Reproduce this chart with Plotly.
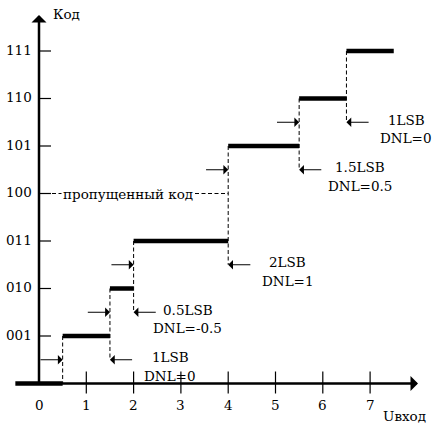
import plotly.graph_objects as go

# ---------------- data ----------------
code_labels = ['000', '001', '010', '011', '100', '101', '110', '111']
codes = [0, 1, 2, 3, 4, 5, 6, 7]
step_start = [-0.5, 0.5, 1.5, 2.0, None, 4.0, 5.5, 6.5]
step_end = [0.5, 1.5, 2.0, 4.0, None, 5.5, 6.5, 7.5]
x_ticks = [0, 1, 2, 3, 4, 5, 6, 7]
x_tick_labels = ['0', '1', '2', '3', '4', '5', '6', '7']
width_labels = ['1LSB', '0.5LSB', '2LSB', '1.5LSB', '1LSB']
dnl_labels = ['DNL=0', 'DNL=-0.5', 'DNL=1', 'DNL=0.5', 'DNL=0']
label_codes = [1, 2, 3, 5, 6]
label_dx = [1.27, 1.15, 1.26, 1.29, 1.26]
missing_code = 4
missing_text = 'пропущенный код'
y_title = 'Код'
x_title = 'Uвход'

# ---------------- geometry (figure px -> data) ----------------
W, H = 433, 426
X0, SX = 39.0, 47.3      # pixel of x=0, px per unit
Y0, SY = 383.5, 47.5     # pixel of y=0 (from top), px per unit
x_range = [-X0 / SX, (W - X0) / SX]
y_range = [(Y0 - H) / SY, Y0 / SY]

FONT = "DejaVu Serif"
FS = 13.5

fig = go.Figure()

# thick code steps
sx, sy = [], []
for c, s, e in zip(codes, step_start, step_end):
    if s is None:
        continue
    sx += [s, e, None]
    sy += [c, c, None]
fig.add_trace(go.Scatter(x=sx, y=sy, mode='lines', line=dict(color='black', width=4.5),
                         hoverinfo='skip', showlegend=False))

# dashed transitions
dx, dy = [], []
prev_code = None
for c, s, e in zip(codes, step_start, step_end):
    if s is None:
        continue
    if prev_code is not None:
        dx += [s, s, None]
        dy += [c, max(0, prev_code - 0.5), None]
    prev_code = c
# missing code dashed horizontal
miss_end = step_start[missing_code + 1]
dx += [0, miss_end, None]
dy += [missing_code, missing_code, None]
fig.add_trace(go.Scatter(x=dx, y=dy, mode='lines',
                         line=dict(color='black', width=1, dash='4px,2.5px'),
                         hoverinfo='skip', showlegend=False))

# y ticks (inside, to the right)
tx, ty = [], []
for c in codes[1:]:
    tx += [0, 12 / SX, None]
    ty += [c, c, None]
# x ticks crossing the axis
for xv in x_ticks[1:]:
    tx += [xv, xv, None]
    ty += [12 / SY, -10 / SY, None]
fig.add_trace(go.Scatter(x=tx, y=ty, mode='lines', line=dict(color='black', width=1.2),
                         hoverinfo='skip', showlegend=False))

ann = []
# axes with arrows
ann.append(dict(x=(418 - X0) / SX, y=0, ax=-0.5, ay=0, axref='x', ayref='y', xref='x', yref='y',
                text='', showarrow=True, arrowhead=1, arrowsize=1.0, arrowwidth=2.5,
                arrowcolor='black', standoff=0, startstandoff=0))
ann.append(dict(x=0, y=(Y0 - 15) / SY, ax=0, ay=0, axref='x', ayref='y', xref='x', yref='y',
                text='', showarrow=True, arrowhead=1, arrowsize=1.0, arrowwidth=2.5,
                arrowcolor='black', standoff=0, startstandoff=0))

# measurement arrows
for c, s, e in zip(codes, step_start, step_end):
    if s is None or c == 0 or c == codes[-1]:
        continue
    yv = c - 0.5
    ann.append(dict(x=s, y=yv, ax=s - 0.5, ay=yv, axref='x', ayref='y', xref='x', yref='y',
                    text='', showarrow=True, arrowhead=1, arrowsize=1.6, arrowwidth=1,
                    arrowcolor='black', standoff=0))
    ann.append(dict(x=e, y=yv, ax=e + 0.5, ay=yv, axref='x', ayref='y', xref='x', yref='y',
                    text='', showarrow=True, arrowhead=1, arrowsize=1.6, arrowwidth=1,
                    arrowcolor='black', standoff=0))

# LSB / DNL labels
for c, wl, dl, ddx in zip(label_codes, width_labels, dnl_labels, label_dx):
    e = step_end[c]
    yv = c - 0.5
    ann.append(dict(x=e + ddx, y=yv + 0.05, xref='x', yref='y', text=wl, showarrow=False,
                    xanchor='center', yanchor='middle', font=dict(family=FONT, size=FS, color='black')))
    ann.append(dict(x=e + ddx, y=yv - 0.34, xref='x', yref='y', text=dl, showarrow=False,
                    xanchor='center', yanchor='middle', font=dict(family=FONT, size=FS, color='black')))

# missing code label
ann.append(dict(x=1.89, y=missing_code, xref='x', yref='y', text=missing_text, showarrow=False,
                xanchor='center', yanchor='middle', bgcolor='white', borderpad=1,
                font=dict(family=FONT, size=FS, color='black')))

# y tick labels
for c, lab in zip(codes[1:], code_labels[1:]):
    ann.append(dict(x=(34 - X0) / SX, y=c + 0.03, xref='x', yref='y', text=lab, showarrow=False,
                    xanchor='right', yanchor='middle', font=dict(family=FONT, size=FS, color='black')))
# x tick labels
for xv, lab in zip(x_ticks, x_tick_labels):
    ann.append(dict(x=xv, y=(Y0 - 405) / SY, xref='x', yref='y', text=lab, showarrow=False,
                    xanchor='center', yanchor='middle', font=dict(family=FONT, size=FS, color='black')))

# axis titles
ann.append(dict(x=(51 - X0) / SX, y=(Y0 - 14) / SY, xref='x', yref='y', text=y_title, showarrow=False,
                xanchor='left', yanchor='middle', font=dict(family=FONT, size=FS, color='black')))
ann.append(dict(x=(428 - X0) / SX, y=(Y0 - 416) / SY, xref='x', yref='y', text=x_title, showarrow=False,
                xanchor='right', yanchor='middle', font=dict(family=FONT, size=FS, color='black')))

fig.update_layout(
    width=W, height=H, autosize=False,
    margin=dict(l=0, r=0, t=0, b=0, pad=0),
    paper_bgcolor='white', plot_bgcolor='white',
    font=dict(family=FONT, size=FS, color='black'),
    xaxis=dict(range=x_range, visible=False, fixedrange=True),
    yaxis=dict(range=y_range, visible=False, fixedrange=True),
    annotations=ann,
    showlegend=False,
)

fig.write_html('out.html', config={'displayModeBar': False})
